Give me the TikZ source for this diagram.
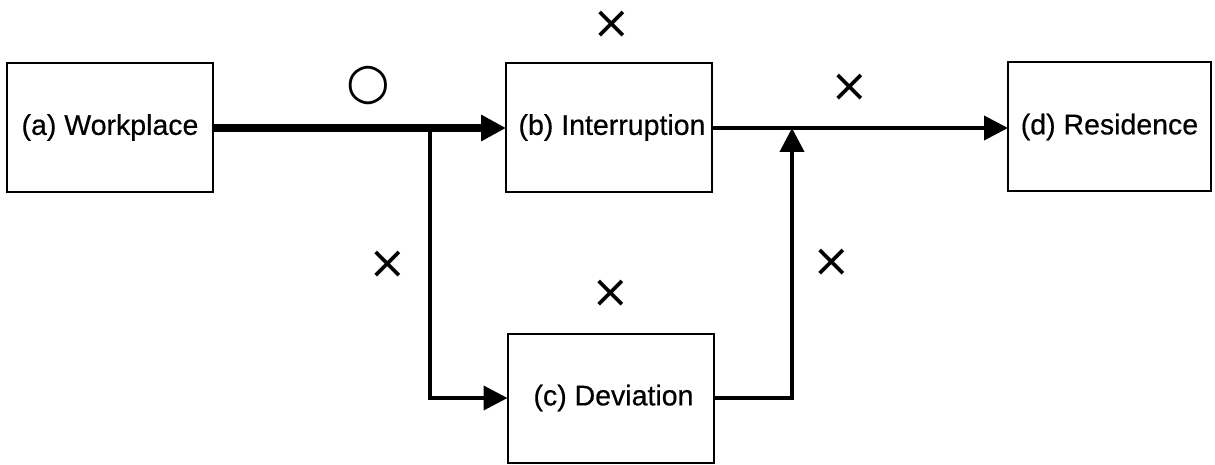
\documentclass[tikz,border=0pt]{standalone}
\usepackage{fontspec}
\setmainfont{Liberation Sans}[FakeBold=0.5]
\newfontfamily\symfont{DejaVu Sans}
\usetikzlibrary{arrows.meta}
\begin{document}
\begin{tikzpicture}[x=1pt,y=-1pt,
  place/.style={draw,line width=2pt,rectangle,inner sep=0pt,outer sep=0pt,
    minimum width=206pt,minimum height=129pt,font=\fontsize{28.5}{30}\selectfont},
  flow/.style={line width=4pt,-{Triangle[length=24pt,width=24pt]}},
  mainflow/.style={line width=7.5pt,-{Triangle[length=25pt,width=25pt]}},
  nomark/.style={font=\symfont\fontsize{46}{48}\selectfont,inner sep=0pt},
  yesmark/.style={font=\symfont\fontsize{50}{52}\selectfont,inner sep=0pt}]
\useasboundingbox (0,0) rectangle (1215,465);
% stages of the commute
\node[place] (a) at (110,127.5) {\raisebox{-3pt}{(a) Workplace}};
\node[place] (b) at (609,127.5) {\raisebox{-3pt}{\hspace*{6pt}(b) Interruption}};
\node[place] (c) at (610.5,398) {\raisebox{-3pt}{\hspace*{6pt}(c) Deviation}};
\node[place,minimum width=203pt] (d) at (1109.5,127) {\raisebox{-3pt}{(d) Residence}};
% junction points
\coordinate (j1) at (430,128);
\coordinate (j2) at (792,128);
% connectors
\draw[mainflow] (a.east |- 0,128) -- (b.west |- 0,128);
\draw[flow] (j1) |- (c.west);
\draw[flow] (c.east) -| (j2);
\draw[flow] (b.east |- 0,128) -- (d.west |- 0,128);
% marks
\node[yesmark] (m1) at (368,86) {○};
\node[nomark] (m2) at (612,25) {×};
\node[nomark] (m3) at (850,88) {×};
\node[nomark] (m4) at (388,265) {×};
\node[nomark] (m5) at (611,294) {×};
\node[nomark] (m6) at (832,263) {×};
\end{tikzpicture}
\end{document}
